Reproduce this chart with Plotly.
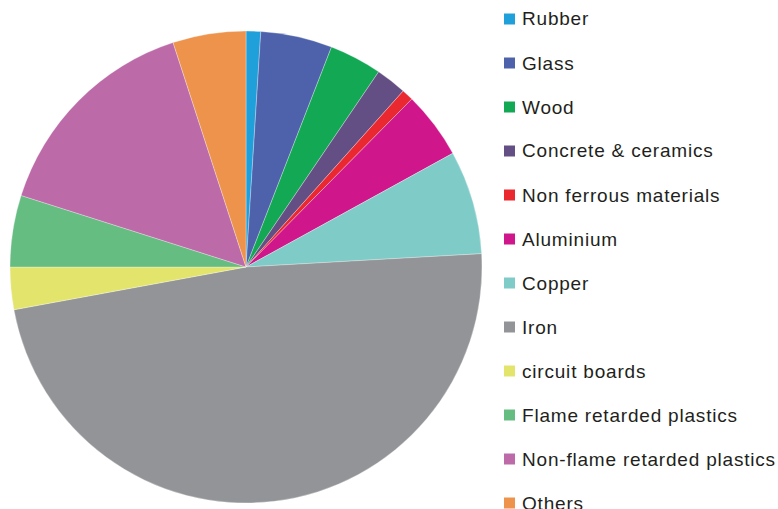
import plotly.graph_objects as go

labels = ["Rubber", "Glass", "Wood", "Concrete & ceramics", "Non ferrous materials",
          "Aluminium", "Copper", "Iron", "circuit boards", "Flame retarded plastics",
          "Non-flame retarded plastics", "Others"]
values = [1.0, 4.9, 3.6, 2.1, 0.8, 4.6, 7.1, 48.0, 2.9, 4.9, 15.1, 5.0]
colors = ["#20a0da", "#4e62ac", "#12a854", "#634f83", "#e9292f", "#cf168a",
          "#7fcbc7", "#939497", "#e2e46c", "#66bd82", "#bc6aa8", "#ee934c"]

W, H = 778, 509

fig = go.Figure(go.Pie(
    labels=labels, values=values, sort=False, direction="clockwise", rotation=0,
    marker=dict(colors=colors, line=dict(color="rgba(255,255,255,0.6)", width=0.5)),
    textinfo="none", showlegend=False,
    domain=dict(x=[9 / W, 483 / W], y=[1 - 503 / H, 1 - 31 / H]),
))

shapes = []
annotations = []
for i, (lab, col) in enumerate(zip(labels, colors)):
    cy = 19 + 44 * i
    shapes.append(dict(type="rect", xref="paper", yref="paper",
                       x0=504 / W, x1=515 / W, y0=1 - (cy - 5.5) / H, y1=1 - (cy + 5.5) / H,
                       fillcolor=col, line=dict(width=0)))
    annotations.append(dict(text='<span style="letter-spacing:0.8px">' + lab + '</span>',
                            xref="paper", yref="paper", x=520 / W, y=1 - cy / H,
                            xanchor="left", yanchor="middle", showarrow=False,
                            font=dict(family="Liberation Sans", size=19, color="#231f20")))

fig.update_layout(width=W, height=H, margin=dict(l=0, r=0, t=0, b=0),
                  paper_bgcolor="white", plot_bgcolor="white",
                  shapes=shapes, annotations=annotations)
fig.write_html("out.html")
